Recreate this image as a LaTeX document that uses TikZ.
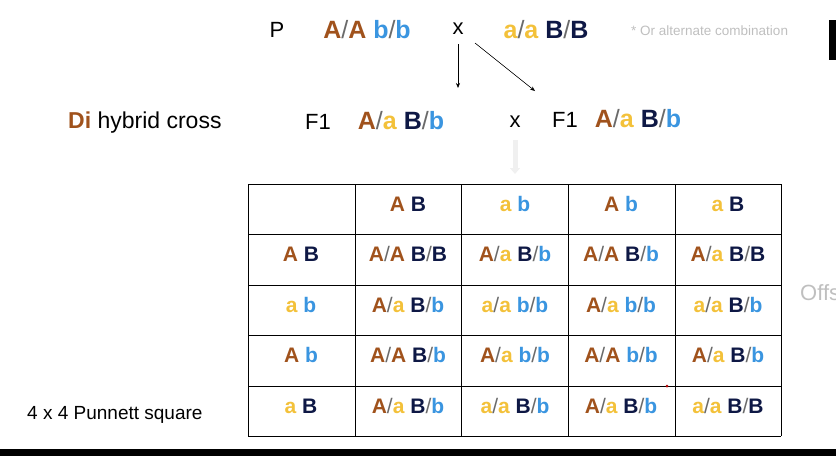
\documentclass[tikz,border=0pt]{standalone}
\usepackage{fontspec}
\setmainfont{Liberation Sans}
\usetikzlibrary{arrows.meta}
\definecolor{brA}{HTML}{A0521C}
\definecolor{yla}{HTML}{F3C13A}
\definecolor{nvB}{HTML}{0E1845}
\definecolor{blb}{HTML}{3A95E0}
\definecolor{slg}{HTML}{6A6A6A}
\newcommand{\gA}{{\color{brA}A}}
\newcommand{\ga}{{\color{yla}a}}
\newcommand{\gB}{{\color{nvB}B}}
\newcommand{\gb}{{\color{blb}b}}
\newcommand{\gs}{{\color{slg}\mdseries/}}
\begin{document}
\begin{tikzpicture}[x=1pt,y=-1pt,
  big/.style={font=\bfseries\fontsize{25}{28}\selectfont,inner sep=0pt},
  lab/.style={font=\fontsize{22}{24}\selectfont,inner sep=0pt},
  cell/.style={font=\bfseries\fontsize{21}{24}\selectfont,inner sep=0pt},
  arr/.style={-{Stealth[length=5pt,width=4pt]},line width=0.6pt}]
\useasboundingbox (0,0) rectangle (836,456);
\fill[black] (0,449) rectangle (836,456);
\fill[black] (829,20) rectangle (836,60);
% top row
\node[lab] (P) at (277,30) {P};
\node[big] (p1) at (367,30) {\gA\gs\gA\ \gb\gs\gb};
\node[lab] (x1) at (458,29) {x};
\node[big] (p2) at (546,30) {\ga\gs\ga\ \gB\gs\gB};
\node[font=\fontsize{13.5}{15}\selectfont,text=black!25,anchor=west,inner sep=0pt] (note) at (631,31) {* Or alternate combination};
\coordinate (a1s) at (458,44); \coordinate (a1e) at (458,88);
\coordinate (a2s) at (475,43); \coordinate (a2e) at (535,91);
\draw[arr] (a1s) -- (a1e);
\draw[arr] (a2s) -- (a2e);
% F1 row
\node[font=\fontsize{23}{26}\selectfont,anchor=west,inner sep=0pt] (di) at (68,123) {{\color{brA}\bfseries Di} hybrid cross};
\node[lab] (f1a) at (318,122) {F1};
\node[big] (g1) at (401,121) {\gA\gs\ga\ \gB\gs\gb};
\node[lab] (x2) at (515,122) {x};
\node[lab] (f1b) at (565,120) {F1};
\node[big] (g2) at (638,119) {\gA\gs\ga\ \gB\gs\gb};
\coordinate (g3s) at (515,140); \coordinate (g3e) at (515,174);
\draw[black!6,line width=5pt,-{Triangle[length=6pt,width=10pt]}] (g3s) -- (g3e);
% table
\foreach \x in {248,355,461,568,675,781} \draw[line width=0.8pt] (\x,184) -- (\x,436);
\foreach \y in {184,234,285,335,386,436} \draw[line width=0.8pt] (248,\y) -- (781,\y);
\node[cell] (h1) at (408,204) {\gA\ \gB};
\node[cell] (h2) at (515,204) {\ga\ \gb};
\node[cell] (h3) at (621,204) {\gA\ \gb};
\node[cell] (h4) at (728,204) {\ga\ \gB};
\node[cell] (r1) at (301,254) {\gA\ \gB};
\node[cell] (r2) at (301,305) {\ga\ \gb};
\node[cell] (r3) at (301,355) {\gA\ \gb};
\node[cell] (r4) at (301,406) {\ga\ \gB};
\node[cell] (c11) at (408,254) {\gA\gs\gA\ \gB\gs\gB};
\node[cell] (c12) at (515,254) {\gA\gs\ga\ \gB\gs\gb};
\node[cell] (c13) at (621,254) {\gA\gs\gA\ \gB\gs\gb};
\node[cell] (c14) at (728,254) {\gA\gs\ga\ \gB\gs\gB};
\node[cell] (c21) at (408,305) {\gA\gs\ga\ \gB\gs\gb};
\node[cell] (c22) at (515,305) {\ga\gs\ga\ \gb\gs\gb};
\node[cell] (c23) at (621,305) {\gA\gs\ga\ \gb\gs\gb};
\node[cell] (c24) at (728,305) {\ga\gs\ga\ \gB\gs\gb};
\node[cell] (c31) at (408,355) {\gA\gs\gA\ \gB\gs\gb};
\node[cell] (c32) at (515,355) {\gA\gs\ga\ \gb\gs\gb};
\node[cell] (c33) at (621,355) {\gA\gs\gA\ \gb\gs\gb};
\node[cell] (c34) at (728,355) {\gA\gs\ga\ \gB\gs\gb};
\node[cell] (c41) at (408,406) {\gA\gs\ga\ \gB\gs\gb};
\node[cell] (c42) at (515,406) {\ga\gs\ga\ \gB\gs\gb};
\node[cell] (c43) at (621,406) {\gA\gs\ga\ \gB\gs\gb};
\node[cell] (c44) at (728,406) {\ga\gs\ga\ \gB\gs\gB};
\fill[red!70!black] (667,386) circle (1.5pt);
\node[font=\fontsize{22}{24}\selectfont,text=black!25,anchor=west,inner sep=0pt] (offs) at (800,293) {Offs};
\node[font=\fontsize{19}{21}\selectfont,anchor=west,inner sep=0pt] (pun) at (27,415) {4 x 4 Punnett square};
\end{tikzpicture}
\end{document}
